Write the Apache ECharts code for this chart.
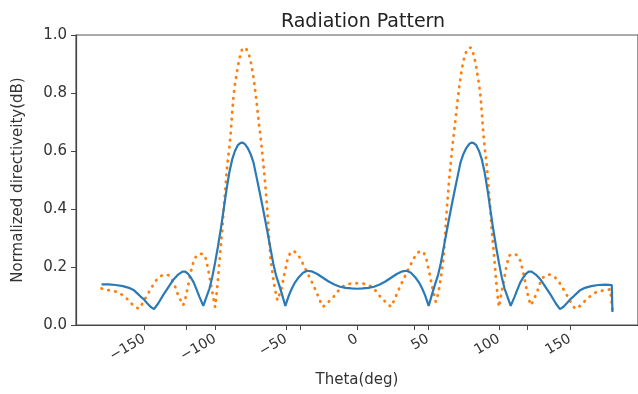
<!DOCTYPE html>
<html>
<head>
<meta charset="utf-8">
<script src="https://cdn.jsdelivr.net/npm/echarts@6/dist/echarts.min.js"></script>
<style>
  html, body { margin: 0; padding: 0; background: #fff; }
  #chart { width: 638px; height: 394px; }
</style>
</head>
<body>
<div id="chart"></div>
<script>
// 读图得到的数据 [theta(deg), 归一化方向性]
var blueLine = [
    [-180, 0.140], [-175, 0.140], [-170, 0.138], [-165, 0.134], [-160, 0.127], [-157.5, 0.121],
    [-155, 0.110], [-152.5, 0.098], [-150.5, 0.090], [-148, 0.076], [-145.5, 0.063], [-143, 0.055],
    [-140, 0.075], [-136.6, 0.103], [-133, 0.130], [-129.6, 0.155], [-126, 0.174], [-123, 0.184],
    [-121, 0.184], [-119, 0.176], [-117, 0.163], [-115, 0.146], [-113, 0.122], [-111, 0.097],
    [-108.3, 0.066], [-106, 0.098], [-104, 0.125], [-102, 0.165], [-100, 0.215], [-98, 0.270],
    [-96, 0.330], [-94, 0.397], [-92, 0.465], [-90, 0.525], [-88, 0.570], [-86, 0.600],
    [-84, 0.620], [-82, 0.628], [-80.5, 0.629], [-79, 0.624], [-77, 0.610], [-75, 0.590],
    [-73, 0.562], [-71, 0.515], [-69, 0.468], [-67, 0.420], [-65, 0.370], [-63, 0.318],
    [-61, 0.265], [-59, 0.212], [-57, 0.170], [-55, 0.140], [-53, 0.108], [-50.5, 0.066],
    [-48, 0.102], [-46, 0.125], [-44, 0.144], [-41, 0.165], [-38, 0.180], [-35, 0.187],
    [-32, 0.185], [-28, 0.176], [-24, 0.163], [-20, 0.150], [-16, 0.140], [-12, 0.132],
    [-8, 0.128], [-4, 0.126], [0, 0.125],
    [4, 0.126], [8, 0.128], [12, 0.132], [16, 0.140], [20, 0.150], [24, 0.163],
    [28, 0.176], [32, 0.185], [35, 0.187], [38, 0.180], [41, 0.165], [44, 0.144],
    [46, 0.125], [48, 0.102], [50.5, 0.066], [53, 0.108], [55, 0.140], [57, 0.170],
    [59, 0.212], [61, 0.265], [63, 0.318], [65, 0.370], [67, 0.420], [69, 0.468],
    [71, 0.515], [73, 0.562], [75, 0.590], [77, 0.610], [79, 0.624], [80.5, 0.629],
    [82, 0.628], [84, 0.620], [86, 0.600], [88, 0.570], [90, 0.525], [92, 0.465],
    [94, 0.397], [96, 0.330], [98, 0.270], [100, 0.215], [102, 0.165], [104, 0.125],
    [106, 0.098], [108.3, 0.066], [111, 0.097], [113, 0.122], [115, 0.146], [117, 0.163],
    [119, 0.176], [121, 0.184], [123, 0.184], [126, 0.174], [129.6, 0.155], [133, 0.130],
    [136.6, 0.103], [140, 0.075], [143, 0.055], [145.5, 0.063], [148, 0.076], [150.5, 0.090],
    [152.5, 0.098], [155, 0.110], [157.5, 0.121], [160, 0.127], [165, 0.134], [170, 0.138],
    [175, 0.139], [179.5, 0.138], [180, 0.045]
];

var dotLine = [
    [-180, 0.126], [-178.5, 0.123], [-175, 0.120], [-172.5, 0.118], [-169, 0.114], [-167, 0.109],
    [-164.5, 0.100], [-162, 0.090], [-160, 0.080], [-158, 0.069], [-156, 0.062], [-153.6, 0.056],
    [-150.5, 0.080], [-147.5, 0.106], [-144.8, 0.129], [-141.7, 0.153], [-139, 0.167], [-136, 0.174],
    [-133, 0.172], [-131, 0.163], [-129, 0.145], [-127, 0.115], [-125, 0.092], [-122.5, 0.068],
    [-121, 0.090], [-119, 0.135], [-117, 0.185], [-115, 0.222], [-113, 0.240], [-111, 0.245],
    [-109, 0.245], [-107, 0.238], [-105, 0.195], [-103.5, 0.155], [-102, 0.115], [-100, 0.062],
    [-99, 0.105], [-98, 0.155], [-97, 0.215], [-96, 0.270], [-95, 0.325], [-94, 0.395],
    [-93, 0.455], [-92, 0.520], [-91, 0.570], [-90, 0.610], [-89, 0.660], [-88, 0.730],
    [-87, 0.790], [-86, 0.830], [-85, 0.860], [-84, 0.890], [-83, 0.915], [-82, 0.935],
    [-81, 0.950], [-80, 0.957], [-79, 0.958], [-78, 0.952], [-77, 0.942], [-76, 0.930],
    [-75, 0.910], [-74, 0.885], [-73, 0.855], [-72, 0.820], [-71, 0.780], [-70, 0.735],
    [-69, 0.690], [-68, 0.650], [-67, 0.605], [-66, 0.555], [-65, 0.505], [-64, 0.445],
    [-63, 0.380], [-62, 0.300], [-61, 0.235], [-60, 0.195], [-59, 0.160], [-58, 0.130],
    [-57, 0.105], [-56, 0.085], [-55.5, 0.080], [-53, 0.130], [-51, 0.180], [-49, 0.225],
    [-47, 0.250], [-45, 0.255], [-43, 0.250], [-41, 0.238], [-39, 0.220], [-37, 0.200],
    [-35, 0.180], [-33, 0.160], [-31, 0.140], [-29, 0.118], [-27, 0.095], [-25, 0.072],
    [-24, 0.063], [-22, 0.070], [-20, 0.080], [-18, 0.090], [-16, 0.100], [-14, 0.113],
    [-12, 0.125], [-10, 0.133], [-7, 0.140], [-4, 0.143], [0, 0.144],
    [4, 0.143], [7, 0.140], [10, 0.133], [12, 0.125], [14, 0.113], [16, 0.100],
    [18, 0.090], [20, 0.080], [22, 0.070], [24, 0.063], [25, 0.072], [27, 0.095],
    [29, 0.118], [31, 0.140], [33, 0.160], [35, 0.180], [37, 0.200], [39, 0.220],
    [41, 0.238], [43, 0.250], [45, 0.255], [47, 0.250], [49, 0.225], [51, 0.180],
    [53, 0.130], [55.5, 0.080], [56, 0.085], [57, 0.105], [58, 0.130], [59, 0.160],
    [60, 0.195], [61, 0.235], [62, 0.300], [63, 0.380], [64, 0.445], [65, 0.505],
    [66, 0.555], [67, 0.605], [68, 0.650], [69, 0.690], [70, 0.735], [71, 0.780],
    [72, 0.820], [73, 0.855], [74, 0.885], [75, 0.910], [76, 0.930], [77, 0.942],
    [78, 0.952], [79, 0.958], [80, 0.957], [81, 0.950], [82, 0.935], [83, 0.915],
    [84, 0.890], [85, 0.860], [86, 0.830], [87, 0.790], [88, 0.730], [89, 0.660],
    [90, 0.610], [91, 0.570], [92, 0.520], [93, 0.455], [94, 0.395], [95, 0.325],
    [96, 0.270], [97, 0.215], [98, 0.155], [99, 0.105], [100, 0.062], [102, 0.115],
    [103.5, 0.155], [105, 0.195], [107, 0.238], [109, 0.245], [111, 0.245], [113, 0.240],
    [115, 0.222], [117, 0.185], [119, 0.135], [121, 0.090], [122.5, 0.068], [125, 0.092],
    [127, 0.115], [129, 0.145], [131, 0.163], [133, 0.172], [136, 0.174], [139, 0.167],
    [141.7, 0.153], [144.8, 0.129], [147.5, 0.106], [150.5, 0.080], [153.6, 0.056], [156, 0.062],
    [158, 0.069], [160, 0.080], [162, 0.090], [164.5, 0.100], [167, 0.109], [169, 0.114],
    [172.5, 0.118], [175, 0.120], [178.5, 0.123], [179.5, 0.124], [180, 0.050]
];

// 刻度
var xLabelTicks = [-150, -100, -50, 0, 50, 100, 150];
var xExtraTicks = [-120, -40, 40, 120];

var myChart = echarts.init(document.getElementById('chart'), null, {renderer: 'canvas'});
var font = 'DejaVu Sans';

var option = {
    animation: false,
    title: {
        text: 'Radiation Pattern',
        left: 358,
        top: 8,
        textAlign: 'center',
        textStyle: {fontFamily: font, fontSize: 19, fontWeight: 'normal', color: '#222'}
    },
    grid: {
        left: 76, top: 35, width: 565, height: 290,
        show: true, borderColor: '#555', borderWidth: 1.2, backgroundColor: 'transparent'
    },
    xAxis: {
        type: 'value',
        min: -198,
        max: 198,
        name: 'Theta(deg)',
        nameLocation: 'middle',
        nameGap: 48,
        nameTextStyle: {fontFamily: font, fontSize: 15, color: '#333'},
        splitLine: {show: false},
        axisLine: {lineStyle: {color: '#444', width: 1.2}},
        axisTick: {
            customValues: xLabelTicks.concat(xExtraTicks),
            length: 5,
            lineStyle: {color: '#444'}
        },
        axisLabel: {
            customValues: xLabelTicks,
            rotate: 30,
            margin: 13,
            fontFamily: font,
            fontSize: 14,
            color: '#333',
            formatter: function (v) {
                return String(v).replace('-', '\u2212');
            }
        }
    },
    yAxis: {
        type: 'value',
        min: 0,
        max: 1,
        interval: 0.2,
        name: 'Normalized directiveity(dB)',
        nameLocation: 'middle',
        nameGap: 50,
        nameTextStyle: {fontFamily: font, fontSize: 15, color: '#333'},
        splitLine: {show: false},
        axisLine: {show: true, onZero: false, lineStyle: {color: '#444', width: 1.2}},
        axisTick: {show: true, length: 5, lineStyle: {color: '#444'}},
        axisLabel: {
            margin: 9,
            fontFamily: font,
            fontSize: 15,
            color: '#333',
            formatter: function (v) {
                return v.toFixed(1);
            }
        }
    },
    series: [
        {
            type: 'line',
            data: blueLine,
            showSymbol: false,
            smooth: false,
            lineStyle: {color: '#2a7ab8', width: 2.2},
            z: 3
        },
        {
            type: 'line',
            data: dotLine,
            showSymbol: false,
            smooth: false,
            lineStyle: {color: '#ff7f0e', width: 2.8, type: [0.5, 6.5], cap: 'round'},
            z: 2
        }
    ]
};

myChart.setOption(option);
</script>
</body>
</html>
